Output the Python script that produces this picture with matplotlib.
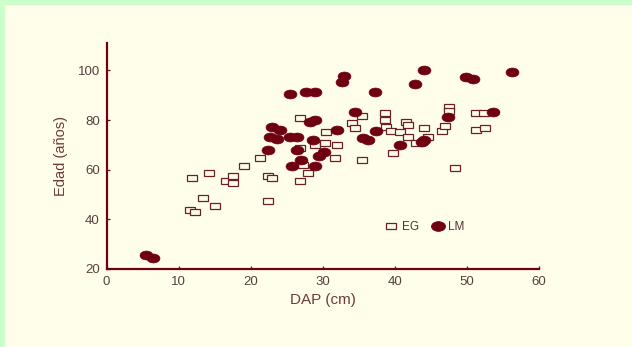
import numpy as np
import matplotlib
matplotlib.use("Agg")
import matplotlib.pyplot as plt
from matplotlib.markers import MarkerStyle
from matplotlib.transforms import Affine2D

plt.rcParams['font.family'] = ['Liberation Sans', 'DejaVu Sans']

# EG: open squares (DAP cm, Edad anos)
eg_dap = [11.6, 12.2, 11.9, 13.3, 14.2, 15.1, 16.5, 17.6, 17.6, 19.0,
          21.3, 22.4, 23.0, 22.4, 26.8, 28.0, 27.2, 26.8, 26.8, 28.9,
          30.5, 30.3, 31.9, 31.7, 34.0, 34.4, 35.4, 35.5, 38.6, 38.6,
          38.8, 39.5, 39.7, 40.7, 41.6, 41.8, 41.8, 43.0, 44.0, 44.6,
          46.5, 46.9, 47.5, 47.5, 48.3, 51.2, 52.4, 51.2, 52.5]
eg_edad = [43.8, 42.9, 56.6, 48.8, 58.6, 45.5, 55.6, 57.6, 54.6, 61.6,
           64.9, 57.6, 56.7, 47.5, 55.6, 58.6, 61.7, 81.0, 68.8, 70.0,
           75.0, 70.9, 70.0, 64.9, 79.0, 76.7, 81.8, 64.0, 83.0, 80.0,
           77.4, 75.6, 66.9, 75.0, 79.4, 78.0, 73.1, 70.9, 76.7, 73.0,
           75.7, 77.7, 85.4, 83.8, 60.6, 83.0, 83.0, 75.8, 76.7]

# LM: filled ellipses
lm_dap = [5.5, 6.4, 22.4, 22.7, 23.6, 22.9, 24.0, 25.5, 25.4, 26.4,
          25.7, 26.4, 27.0, 27.6, 28.9, 28.2, 28.9, 28.7, 28.9, 29.5,
          30.2, 31.9, 32.6, 33.0, 34.5, 35.6, 36.3, 37.4, 37.2, 40.7,
          42.8, 43.7, 44.1, 44.1, 47.4, 49.9, 50.8, 53.6, 56.3]
lm_edad = [25.6, 24.6, 68.0, 73.0, 72.3, 77.0, 76.0, 90.4, 73.0, 73.0,
           61.3, 68.0, 64.0, 91.5, 91.5, 79.4, 80.0, 72.0, 61.3, 65.5,
           67.0, 76.0, 95.5, 97.8, 83.3, 72.7, 72.0, 75.4, 91.5, 70.0,
           94.5, 71.3, 72.0, 100.0, 81.2, 97.5, 96.5, 83.2, 99.2]

xticks = [0, 10, 20, 30, 40, 50, 60]
yticks = [20, 40, 60, 80, 100]

bg = '#fffeea'
dark = '#6e0012'

fig = plt.figure(figsize=(6.32, 3.47), dpi=100)
fig.patch.set_facecolor(bg)
# light green border on top and left
fig.patches.append(plt.Rectangle((0, 0.988), 1, 0.012, transform=fig.transFigure,
                                 color='#ccffcc', zorder=0))
fig.patches.append(plt.Rectangle((0, 0), 0.006, 1, transform=fig.transFigure,
                                 color='#ccffcc', zorder=0))

ax = fig.add_axes([0.1688, 0.2248, 0.684, 0.651])
ax.set_facecolor(bg)

sq = MarkerStyle('s', transform=Affine2D().scale(1.55, 1))
el = MarkerStyle('o', transform=Affine2D().scale(1.45, 1))

ax.plot(eg_dap, eg_edad, linestyle='none', marker=sq, markersize=4.4,
        mfc=bg, mec='#6a2028', mew=0.9, label='EG')
ax.plot(lm_dap, lm_edad, linestyle='none', marker=el, markersize=6.4,
        mfc=dark, mec=dark, mew=0.5, label='LM')

ax.set_xlim(0, 60)
ax.set_ylim(20, 111)
ax.set_xticks(xticks)
ax.set_yticks(yticks)

for s in ['top', 'right']:
    ax.spines[s].set_visible(False)
for s in ['left', 'bottom']:
    ax.spines[s].set_color(dark)
    ax.spines[s].set_linewidth(1.6)

ax.tick_params(direction='in', length=2.5, width=0.9, color=dark,
               labelsize=9.5, labelcolor='#554040', pad=5)

ax.set_xlabel('DAP (cm)', fontsize=11, color='#6e3a3a', labelpad=4)
ax.set_ylabel('Edad (años)', fontsize=10.5, color='#6e3a3a', labelpad=7)

leg = ax.legend(loc='center', bbox_to_anchor=(0.735, 0.186), ncol=2, frameon=False,
                fontsize=8.5, handletextpad=0.3, columnspacing=1.0, handlelength=1.2,
                markerscale=1.1)
for t in leg.get_texts():
    t.set_color('#4a3535')

fig.savefig('out.png', dpi=100, facecolor=fig.get_facecolor())
